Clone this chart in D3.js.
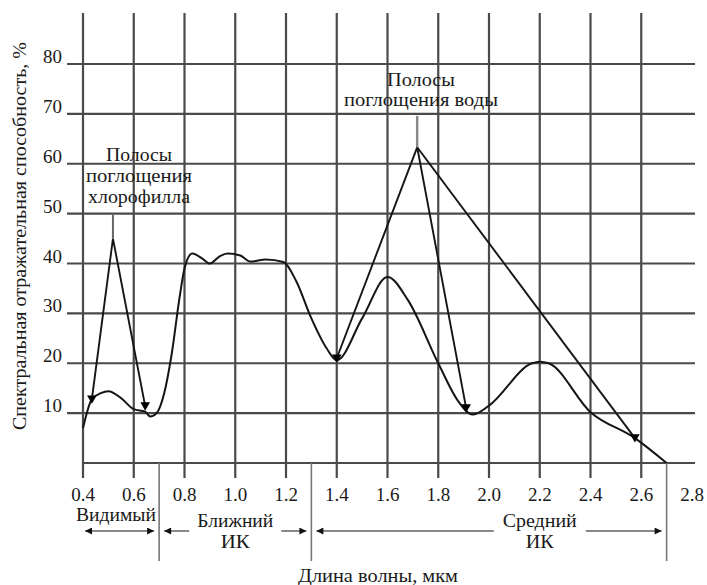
<!DOCTYPE html>
<html>
<head>
<meta charset="utf-8">
<script src="https://cdn.jsdelivr.net/npm/d3@7"></script>
<style>
  body { margin: 0; background: #fff; }
  text { font-family: "Liberation Serif", "Times New Roman", serif; fill: #1a1a1a; }
</style>
</head>
<body>
<svg id="chart" width="707" height="585"></svg>
<script>
// grid / tick values
const xTicks = [0.4, 0.6, 0.8, 1.0, 1.2, 1.4, 1.6, 1.8, 2.0, 2.2, 2.4, 2.6]
const xLabels = ['0.4', '0.6', '0.8', '1.0', '1.2', '1.4', '1.6', '1.8', '2.0', '2.2', '2.4', '2.6', '2.8']
const yTicks = [10, 20, 30, 40, 50, 60, 70, 80]

// smooth reflectance curve (wavelength, %)
const smoothWl = [0.40, 0.435, 0.47, 0.50, 0.55, 0.60, 0.645, 0.665, 0.69, 0.72, 0.75, 0.78, 0.80, 0.83, 0.87, 0.90,
  0.94, 0.97, 1.02, 1.06, 1.12, 1.19, 1.24, 1.30, 1.36, 1.40, 1.50, 1.60, 1.68, 1.80, 1.88, 1.935, 2.00, 2.17, 2.20,
  2.235, 2.40, 2.575, 2.70]
const smoothR = [7, 12.8, 14.0, 14.4, 13.0, 10.8, 10.3, 9.3, 10, 14, 22, 33, 39, 42, 41, 40,
  41.5, 42, 41.6, 40.4, 40.8, 40.3, 36.5, 29, 23, 20.6, 29, 37.3, 32.7, 20, 12.3, 9.7, 11.5, 20, 20.3,
  20, 10.2, 5, 0]

// straight segments of the absorption bands
const chlorWl = [0.435, 0.518, 0.645]
const chlorR = [12.8, 45, 11.4]
const waterWl = [1.40, 1.717, 1.91]
const waterR = [21, 63.3, 11]
const hullWl = [1.717, 2.575]
const hullR = [63.3, 5]

// marker points
const markWl = [0.435, 0.645, 1.40, 1.91, 2.575]
const markR = [12.8, 11.4, 21, 11, 5]

// annotations
const chlorLabel = ['Полосы', 'поглощения', 'хлорофилла']
const waterLabel = ['Полосы', 'поглощения воды']

// spectral regions
const regionBounds = [0.4, 0.7, 1.3, 2.7]
const regionNames = [['Видимый'], ['Ближний', 'ИК'], ['Средний', 'ИК']]
const regionLabelWl = [0.53, 1.0, 2.2]

const svg = d3.select('#chart')

const x = d3.scaleLinear().domain([0.4, 2.8]).range([83, 692])
const y = d3.scaleLinear().domain([0, 80]).range([463, 64])

const gridColor = '#4a4a4a'
const gridTop = 13

// fixed text widths of the original lettering
function fit (sel, w) {
  sel.attr('textLength', w).attr('lengthAdjust', 'spacingAndGlyphs')
}

// vertical grid lines
svg.append('g')
  .selectAll('line')
  .data(xTicks)
  .enter()
  .append('line')
  .attr('x1', d => x(d))
  .attr('x2', d => x(d))
  .attr('y1', gridTop)
  .attr('y2', y(0) + 15)
  .attr('stroke', gridColor)
  .attr('stroke-width', 2.2)

// horizontal grid lines
svg.append('g')
  .selectAll('line')
  .data([0].concat(yTicks))
  .enter()
  .append('line')
  .attr('x1', d => d === 0 ? x(0.4) : 67)
  .attr('x2', 695)
  .attr('y1', d => y(d))
  .attr('y2', d => y(d))
  .attr('stroke', gridColor)
  .attr('stroke-width', 2.2)

// y tick labels
svg.append('g')
  .selectAll('text')
  .data(yTicks)
  .enter()
  .append('text')
  .attr('x', 62)
  .attr('y', d => y(d) - 1)
  .attr('text-anchor', 'end')
  .attr('font-size', 19)
  .text(d => d)

// x tick labels
svg.append('g')
  .selectAll('text')
  .data(xLabels)
  .enter()
  .append('text')
  .attr('x', d => x(+d))
  .attr('y', 501)
  .attr('text-anchor', 'middle')
  .attr('font-size', 19)
  .text(d => d)

// curves
const line = d3.line().x(d => x(d[0])).y(d => y(d[1]))
const smooth = d3.line().x(d => x(d[0])).y(d => y(d[1])).curve(d3.curveMonotoneX)

svg.append('path')
  .attr('d', smooth(d3.zip(smoothWl, smoothR)))
  .attr('fill', 'none')
  .attr('stroke', '#151515')
  .attr('stroke-width', 2)

const segs = [d3.zip(chlorWl, chlorR), d3.zip(waterWl, waterR), d3.zip(hullWl, hullR)]
svg.append('g')
  .selectAll('path')
  .data(segs)
  .enter()
  .append('path')
  .attr('d', d => line(d))
  .attr('fill', 'none')
  .attr('stroke', '#151515')
  .attr('stroke-width', 1.9)

// leader lines to the annotations
svg.append('line')
  .attr('x1', x(chlorWl[1])).attr('x2', x(chlorWl[1]))
  .attr('y1', y(chlorR[1])).attr('y2', y(50))
  .attr('stroke', '#666').attr('stroke-width', 2)
svg.append('line')
  .attr('x1', x(waterWl[1])).attr('x2', x(waterWl[1]))
  .attr('y1', y(waterR[1])).attr('y2', y(69.6))
  .attr('stroke', '#888').attr('stroke-width', 2.5)

// markers
svg.append('g')
  .selectAll('path')
  .data(d3.zip(markWl, markR))
  .enter()
  .append('path')
  .attr('d', d3.symbol().type(d3.symbolTriangle).size(40))
  .attr('transform', d => `translate(${x(d[0])},${y(d[1]) - 1}) rotate(180)`)
  .attr('fill', '#000')

// annotation texts
const chlorW = [66, 106, 102]
svg.append('g')
  .selectAll('text')
  .data(chlorLabel)
  .enter()
  .append('text')
  .attr('x', 139)
  .attr('y', (d, i) => 161 + i * 21)
  .attr('text-anchor', 'middle')
  .attr('font-size', 19)
  .text(d => d)
  .each(function (d, i) { fit(d3.select(this), chlorW[i]) })

const waterW = [68, 154]
svg.append('g')
  .selectAll('text')
  .data(waterLabel)
  .enter()
  .append('text')
  .attr('x', 421)
  .attr('y', (d, i) => 86 + i * 20)
  .attr('text-anchor', 'middle')
  .attr('font-size', 19)
  .text(d => d)
  .each(function (d, i) { fit(d3.select(this), waterW[i]) })

// region dividers
svg.append('g')
  .selectAll('line')
  .data(regionBounds.slice(1))
  .enter()
  .append('line')
  .attr('x1', d => x(d)).attr('x2', d => x(d))
  .attr('y1', y(0)).attr('y2', 561)
  .attr('stroke', '#777')
  .attr('stroke-width', 1.6)

// arrow heads
const defs = svg.append('defs')
defs.append('marker')
  .attr('id', 'arr')
  .attr('viewBox', '0 0 10 10')
  .attr('refX', 10).attr('refY', 5)
  .attr('markerWidth', 8).attr('markerHeight', 7)
  .attr('markerUnits', 'userSpaceOnUse')
  .attr('orient', 'auto-start-reverse')
  .append('path')
  .attr('d', 'M0,0L10,5L0,10z')
  .attr('fill', '#111')

const arrowY = 531
const regionW = [[80], [76, 29], [74, 28]]
regionNames.forEach((names, i) => {
  const x0 = x(regionBounds[i]) + (i === 0 ? 2 : 5)
  const x1 = x(regionBounds[i + 1]) - 5
  svg.append('line')
    .attr('x1', x0).attr('x2', x1)
    .attr('y1', arrowY).attr('y2', arrowY)
    .attr('stroke', '#888').attr('stroke-width', 2)
    .attr('marker-start', 'url(#arr)')
    .attr('marker-end', 'url(#arr)')
  const cx = x(regionLabelWl[i])
  const g = svg.append('g')
  if (names.length > 1) {
    g.append('rect')
      .attr('x', cx - 46).attr('y', arrowY - 20)
      .attr('width', 92).attr('height', 40)
      .attr('fill', '#fff')
  }
  g.selectAll('text')
    .data(names)
    .enter()
    .append('text')
    .attr('x', cx)
    .attr('y', (d, j) => names.length > 1 ? 527 + j * 21 : 521)
    .attr('text-anchor', 'middle')
    .attr('font-size', 19)
    .text(d => d)
    .each(function (d, j) { fit(d3.select(this), regionW[i][j]) })
})

// axis titles
svg.append('text')
  .attr('transform', 'translate(26,236) rotate(-90)')
  .attr('text-anchor', 'middle')
  .attr('font-size', 19)
  .attr('textLength', 388)
  .attr('lengthAdjust', 'spacingAndGlyphs')
  .text('Спектральная отражательная способность, %')

svg.append('text')
  .attr('x', 378)
  .attr('y', 582)
  .attr('text-anchor', 'middle')
  .attr('font-size', 19)
  .attr('textLength', 160)
  .attr('lengthAdjust', 'spacingAndGlyphs')
  .text('Длина волны, мкм')
</script>
</body>
</html>
